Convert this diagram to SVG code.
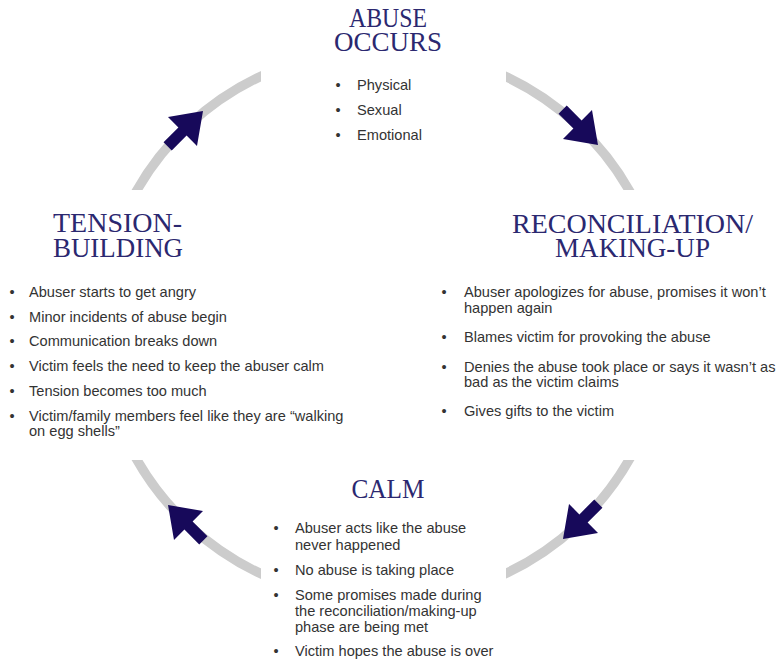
<svg xmlns="http://www.w3.org/2000/svg" width="780" height="663" viewBox="0 0 780 663">
<style>
.title{font-family:"Liberation Serif","Times New Roman",serif;font-size:28px;fill:#2b2870;}
.body{font-family:"Liberation Sans",Arial,sans-serif;font-size:14.6px;fill:#333333;}
.ring{fill:none;stroke:#cccccc;stroke-width:9.5;}
.arrow{fill:#17095a;}
</style>
<defs>
<clipPath id="ringClip">
<rect x="0" y="0" width="261" height="190"/>
<rect x="506" y="0" width="274" height="190"/>
<rect x="506" y="460" width="274" height="203"/>
<rect x="0" y="460" width="261" height="203"/>
</clipPath>
<path id="arrowShape" d="M0,0 L-29,-20.5 L-29,-5.8 L-50,-5.8 L-50,5.8 L-29,5.8 L-29,20.5 Z"/>
</defs>
<rect width="780" height="663" fill="#ffffff"/>
<g id="connectors">
<g clip-path="url(#ringClip)">
<path class="ring" d="M127.4,208.4 A282,276 0 0 1 277.4,69.1"/>
<path class="ring" d="M488.6,69.1 A282,276 0 0 1 638.6,208.4"/>
<path class="ring" d="M638.6,441.6 A282,276 0 0 1 488.6,580.9"/>
<path class="ring" d="M277.4,580.9 A282,276 0 0 1 127.4,441.6"/>
</g>
<use href="#arrowShape" class="arrow" transform="translate(203,111) rotate(-45)"/>
<use href="#arrowShape" class="arrow" transform="translate(598,145) rotate(45)"/>
<use href="#arrowShape" class="arrow" transform="translate(563,539) rotate(135)"/>
<use href="#arrowShape" class="arrow" transform="translate(168,505) rotate(-135)"/>
</g>
<g id="node-abuse">
<text class="title" text-anchor="middle"><tspan x="388" y="27" textLength="78" lengthAdjust="spacingAndGlyphs">ABUSE</tspan><tspan x="388" y="51" textLength="108" lengthAdjust="spacingAndGlyphs">OCCURS</tspan></text>
<text class="body" x="338" y="89.5" text-anchor="middle">•</text>
<text class="body" x="357" y="89.5">Physical</text>
<text class="body" x="338" y="114.5" text-anchor="middle">•</text>
<text class="body" x="357" y="114.5">Sexual</text>
<text class="body" x="338" y="139.5" text-anchor="middle">•</text>
<text class="body" x="357" y="139.5">Emotional</text>
</g>
<g id="node-reconciliation">
<text class="title" text-anchor="middle"><tspan x="632.5" y="233" textLength="241" lengthAdjust="spacingAndGlyphs">RECONCILIATION/</tspan><tspan x="632.5" y="256.5" textLength="155" lengthAdjust="spacingAndGlyphs">MAKING-UP</tspan></text>
<text class="body" x="444" y="297" text-anchor="middle">•</text>
<text class="body" x="464" y="297">Abuser apologizes for abuse, promises it won’t</text>
<text class="body" x="464" y="312.5">happen again</text>
<text class="body" x="444" y="342" text-anchor="middle">•</text>
<text class="body" x="464" y="342">Blames victim for provoking the abuse</text>
<text class="body" x="444" y="371.5" text-anchor="middle">•</text>
<text class="body" x="464" y="371.5">Denies the abuse took place or says it wasn’t as</text>
<text class="body" x="464" y="387">bad as the victim claims</text>
<text class="body" x="444" y="416" text-anchor="middle">•</text>
<text class="body" x="464" y="416">Gives gifts to the victim</text>
</g>
<g id="node-calm">
<text class="title" x="388" y="498" text-anchor="middle" textLength="73" lengthAdjust="spacingAndGlyphs">CALM</text>
<text class="body" x="276" y="533" text-anchor="middle">•</text>
<text class="body" x="295" y="533">Abuser acts like the abuse</text>
<text class="body" x="295" y="549.5">never happened</text>
<text class="body" x="276" y="574.5" text-anchor="middle">•</text>
<text class="body" x="295" y="574.5">No abuse is taking place</text>
<text class="body" x="276" y="600" text-anchor="middle">•</text>
<text class="body" x="295" y="600">Some promises made during</text>
<text class="body" x="295" y="616">the reconciliation/making-up</text>
<text class="body" x="295" y="632">phase are being met</text>
<text class="body" x="276" y="656" text-anchor="middle">•</text>
<text class="body" x="295" y="656">Victim hopes the abuse is over</text>
</g>
<g id="node-tension">
<text class="title"><tspan x="53" y="231.5" textLength="129" lengthAdjust="spacingAndGlyphs">TENSION-</tspan><tspan x="53" y="256.5" textLength="130" lengthAdjust="spacingAndGlyphs">BUILDING</tspan></text>
<text class="body" x="12" y="297" text-anchor="middle">•</text>
<text class="body" x="29" y="297">Abuser starts to get angry</text>
<text class="body" x="12" y="321.5" text-anchor="middle">•</text>
<text class="body" x="29" y="321.5">Minor incidents of abuse begin</text>
<text class="body" x="12" y="346" text-anchor="middle">•</text>
<text class="body" x="29" y="346">Communication breaks down</text>
<text class="body" x="12" y="371" text-anchor="middle">•</text>
<text class="body" x="29" y="371">Victim feels the need to keep the abuser calm</text>
<text class="body" x="12" y="395.5" text-anchor="middle">•</text>
<text class="body" x="29" y="395.5">Tension becomes too much</text>
<text class="body" x="12" y="420.5" text-anchor="middle">•</text>
<text class="body" x="29" y="420.5">Victim/family members feel like they are “walking</text>
<text class="body" x="29" y="436">on egg shells”</text>
</g>
</svg>
